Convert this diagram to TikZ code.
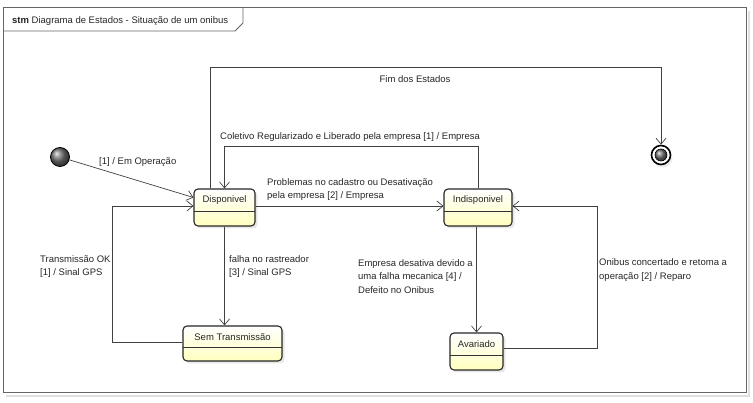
\documentclass[tikz,border=0pt]{standalone}
\usepackage{fontspec}
\setmainfont{Liberation Sans}
\usetikzlibrary{arrows.meta,shadows}
\begin{document}
\begin{tikzpicture}[x=1pt,y=-1pt,
  state/.style={draw=black!85,line width=1.1pt,rounded corners=4pt,
    top color=white,bottom color=yellow!25,inner sep=0pt,
    drop shadow={shadow xshift=2.5pt,shadow yshift=-2.5pt,fill=black!18}},
  sep/.style={draw=black!80,line width=0.7pt},
  lbl/.style={font=\fontsize{9.5}{13.5}\selectfont,text=black!85,inner sep=0pt,align=left},
  tr/.style={draw=black!75,line width=0.7pt,-{Straight Barb[length=6pt,width=10pt]}},
  frm/.style={draw=black!60,line width=1pt}]
\useasboundingbox (0,0) rectangle (753,403);
% frame
\draw[black!12,line width=1.5pt] (6,396) -- (749,396) -- (749,11);
\draw[frm] (3,8) rectangle (746,393);
\draw[frm,line width=0.8pt] (3,31) -- (235,31) -- (243,23) -- (243,8);
\node[lbl,anchor=west] (title) at (12,21) {\textbf{stm} Diagrama de Estados - Situação de um onibus};
% pseudo states
\shade[ball color=black!55] (60,157) circle (9.5);
\node[draw=black,line width=0.8pt,circle,minimum size=19pt,inner sep=0pt] (ini) at (60,157) {};
\node[draw=black,line width=1.6pt,circle,minimum size=19pt,inner sep=0pt,fill=white,
  drop shadow={shadow xshift=2pt,shadow yshift=-3pt,fill=black!15}] (fin) at (661,155) {};
\shade[ball color=black!55] (661,155) circle (6);
\draw[black,line width=0.6pt] (661,155) circle (6);
% states
\node[state,minimum width=61pt,minimum height=37pt] (disp) at (224.5,207.5) {};
\node[lbl] (tdisp) at (224.5,200) {Disponivel};
\draw[sep] (194,211) -- (255,211);
\node[state,minimum width=68pt,minimum height=37pt] (indisp) at (478,207.5) {};
\node[lbl] (tindisp) at (478,200) {Indisponivel};
\draw[sep] (444,211) -- (512,211);
\node[state,minimum width=99pt,minimum height=35pt] (sem) at (232.5,343.5) {};
\node[lbl] (tsem) at (232.5,337) {Sem Transmissão};
\draw[sep] (183,347) -- (282,347);
\node[state,minimum width=53pt,minimum height=37pt] (avar) at (476.5,351.5) {};
\node[lbl] (tavar) at (476.5,344) {Avariado};
\draw[sep] (450,355) -- (503,355);
% transitions
\draw[tr] (ini) -- ([yshift=10pt]disp.west);
\node[lbl,anchor=west] (l1) at (99,162) {[1] / Em Operação};
\draw[tr] ([xshift=-14.5pt]disp.north) -- ++(0,-121) -| (fin.north);
\node[lbl] (l2) at (415,79) {Fim dos Estados};
\draw[tr] (indisp.north) -- ++(0,-42) -| (disp.north);
\node[lbl,anchor=west] (l3) at (220,137) {Coletivo Regularizado e Liberado pela empresa [1] / Empresa};
\draw[tr] ([yshift=1.5pt]disp.east) -- ([yshift=1.5pt]indisp.west);
\node[lbl,anchor=west] (l4) at (267,189.5) {Problemas no cadastro ou Desativação\\pela empresa [2] / Empresa};
\draw[tr] ([yshift=1.5pt]sem.west) -- ++(-70,0) |- ([yshift=1.5pt]disp.west);
\node[lbl,anchor=west] (l5) at (40,266.5) {Transmissão OK\\{}[1] / Sinal GPS};
\draw[tr] (disp.south) -- (disp.south |- sem.north);
\node[lbl,anchor=west] (l6) at (229,266.5) {falha no rastreador\\{}[3] / Sinal GPS};
\draw[tr] (avar.north |- indisp.south) -- (avar.north);
\node[lbl,anchor=west] (l7) at (358,276.5) {Empresa desativa devido a\\uma falha mecanica [4] /\\Defeito no Onibus};
\draw[tr] ([yshift=3pt]avar.east) -- ++(94,0) |- ([yshift=1.5pt]indisp.east);
\node[lbl,anchor=west] (l8) at (599,270) {Onibus concertado e retoma a\\operação [2] / Reparo};
\end{tikzpicture}
\end{document}
